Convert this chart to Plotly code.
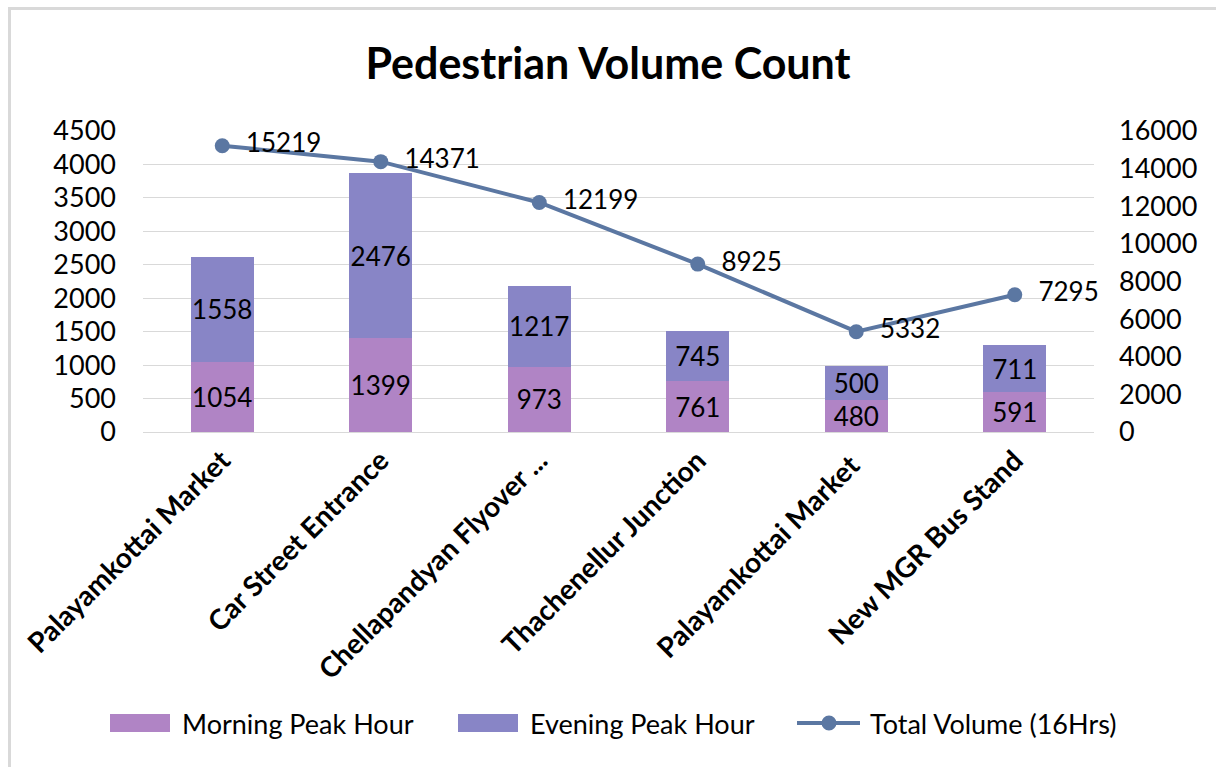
import plotly.graph_objects as go

# Survey locations and counts
locations = [
    "Palayamkottai Market",
    "Car Street Entrance",
    "Chellapandyan Flyover ...",
    "Thachenellur Junction",
    "Palayamkottai Market ",
    "New MGR Bus Stand",
]
morning_peak = [1054, 1399, 973, 761, 480, 591]
evening_peak = [1558, 2476, 1217, 745, 500, 711]
total_volume = [15219, 14371, 12199, 8925, 5332, 7295]

left_ticks = [0, 500, 1000, 1500, 2000, 2500, 3000, 3500, 4000, 4500]
right_ticks = [0, 2000, 4000, 6000, 8000, 10000, 12000, 14000, 16000]

series_names = ["Morning Peak Hour", "Evening Peak Hour", "Total Volume (16Hrs)"]

FONT = "Lato"
MORNING_COLOR = "#B084C5"
EVENING_COLOR = "#8885C6"
LINE_COLOR = "#5B77A2"
GRID_COLOR = "#D9D9D9"

# plot-area geometry in pixels, used to place frame and legend in paper units
W, H = 1216, 767
ML, MR, MT, MB = 143, 122, 131, 335
PW, PH = W - ML - MR, H - MT - MB


def px_x(p):
    return (p - ML) / PW


def px_y(p):
    return (H - MB - p) / PH


fig = go.Figure()

for name, vals, color in [(series_names[0], morning_peak, MORNING_COLOR),
                          (series_names[1], evening_peak, EVENING_COLOR)]:
    fig.add_trace(go.Bar(
        name=name,
        x=locations, y=vals,
        marker=dict(color=color, line=dict(width=0)),
        text=[str(v) for v in vals],
        textposition="inside", insidetextanchor="middle",
        textangle=0,
        textfont=dict(family=FONT, size=26, color="black"),
        constraintext="none",
        width=0.4,
    ))

fig.add_trace(go.Scatter(
    name=series_names[2],
    x=locations, y=total_volume, yaxis="y2",
    mode="lines+markers+text",
    line=dict(color=LINE_COLOR, width=4),
    marker=dict(color=LINE_COLOR, size=15),
    text=["  " + str(v) for v in total_volume],
    textposition="middle right",
    textfont=dict(family=FONT, size=26, color="black"),
    cliponaxis=False,
))

fig.update_layout(
    width=W, height=H,
    barmode="stack",
    plot_bgcolor="white", paper_bgcolor="white",
    margin=dict(l=ML, r=MR, t=MT, b=MB),
    font=dict(family=FONT, color="black"),
    showlegend=False,
    title=dict(
        text="<b>Pedestrian Volume Count</b>",
        x=0.5, xanchor="center", y=1 - 64 / H, yanchor="middle",
        font=dict(family=FONT, size=43, color="black"),
    ),
    xaxis=dict(
        tickangle=-45,
        tickfont=dict(family=FONT, size=28, color="black", weight="bold"),
        showgrid=False, showline=True, linecolor=GRID_COLOR, linewidth=1,
        ticks="",
    ),
    yaxis=dict(
        range=[0, 4500], tickvals=left_ticks,
        ticktext=[str(v) for v in left_ticks],
        tickfont=dict(family=FONT, size=27, color="black"),
        showgrid=True, gridcolor=GRID_COLOR, gridwidth=1,
        zeroline=False, ticklabelstandoff=26,
    ),
    yaxis2=dict(
        range=[0, 16000], tickvals=right_ticks,
        ticktext=[str(v) for v in right_ticks],
        overlaying="y", side="right",
        tickfont=dict(family=FONT, size=27, color="black"),
        showgrid=False, zeroline=False, ticklabelstandoff=24,
    ),
)

# Chart frame: its right and bottom edges lie outside the visible page
fig.add_shape(type="rect", xref="paper", yref="paper",
              x0=px_x(9.5), x1=px_x(W + 40), y0=px_y(H + 40), y1=px_y(8.5),
              line=dict(color=GRID_COLOR, width=3), fillcolor="rgba(0,0,0,0)",
              layer="below")

# Legend row beneath the category labels
leg_y = px_y(723)
swatches = [(110, 170, MORNING_COLOR), (458, 518, EVENING_COLOR)]
for (a, b, c) in swatches:
    fig.add_shape(type="rect", xref="paper", yref="paper",
                  x0=px_x(a), x1=px_x(b), y0=px_y(732), y1=px_y(714),
                  fillcolor=c, line=dict(width=0))
fig.add_shape(type="line", xref="paper", yref="paper",
              x0=px_x(797), x1=px_x(860), y0=leg_y, y1=leg_y,
              line=dict(color=LINE_COLOR, width=4))
fig.add_shape(type="circle", xref="paper", yref="paper",
              xsizemode="pixel", ysizemode="pixel",
              xanchor=px_x(829), yanchor=leg_y,
              x0=-7.5, x1=7.5, y0=-7.5, y1=7.5,
              fillcolor=LINE_COLOR, line=dict(width=0))
for name, start in zip(series_names, [180, 528, 868]):
    fig.add_annotation(xref="paper", yref="paper",
                       x=px_x(start), y=leg_y, xanchor="left", yanchor="middle",
                       text=name, showarrow=False,
                       font=dict(family=FONT, size=27, color="black"))

# keep the page free of scrollbars
fig.write_html(
    "out.html",
    post_script="document.body.style.margin='0';document.body.style.overflow='hidden';",
)
